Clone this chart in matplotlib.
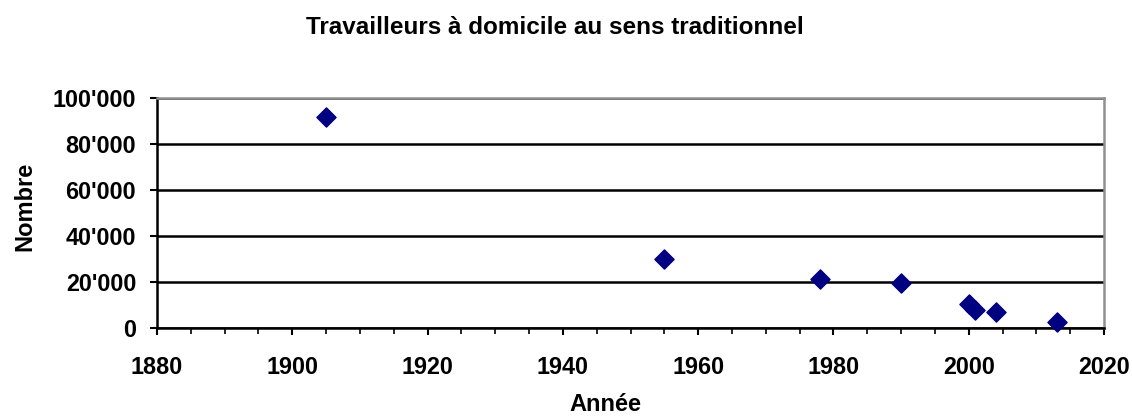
import matplotlib.pyplot as plt
from matplotlib.ticker import MultipleLocator, FuncFormatter

# Données: travailleurs à domicile
annees = [1905, 1955, 1978, 1990, 2000, 2001, 2004, 2013]
nombre = [91700, 29800, 21300, 19400, 10400, 8000, 6800, 2800]

plt.rcParams['font.family'] = ['Liberation Sans', 'DejaVu Sans']
plt.rcParams['font.weight'] = 'bold'

fig = plt.figure(figsize=(11.32, 4.16), dpi=100)
ax = fig.add_axes([157 / 1132, (416 - 328) / 416, 947 / 1132, 230 / 416])

ax.scatter(annees, nombre, marker='D', s=95, color='#000080', zorder=3, clip_on=False)

ax.set_xlim(1880, 2020)
ax.set_ylim(0, 100000)
ax.xaxis.set_major_locator(MultipleLocator(20))
ax.xaxis.set_minor_locator(MultipleLocator(5))
ax.yaxis.set_major_locator(MultipleLocator(20000))
ax.yaxis.set_major_formatter(FuncFormatter(lambda v, p: f"{int(v):,}".replace(',', "'")))

ax.grid(axis='y', color='black', linewidth=1.8)
ax.set_axisbelow(True)

for s in ['left', 'bottom']:
    ax.spines[s].set_color('black')
    ax.spines[s].set_linewidth(1.8)
for s in ['top', 'right']:
    ax.spines[s].set_color('#909090')
    ax.spines[s].set_linewidth(1.8)

ax.tick_params(axis='both', which='major', direction='out', length=5, width=1.5,
               labelsize=16.8)
ax.tick_params(axis='x', which='major', pad=15)
ax.tick_params(axis='y', which='major', pad=10)
ax.tick_params(axis='x', which='minor', direction='out', length=4, width=1.2)

ax.set_xlabel('Année', fontsize=17, fontweight='bold', labelpad=10, x=0.474)
ax.set_ylabel('Nombre', fontsize=17, fontweight='bold', labelpad=12, y=0.528)
fig.text(555 / 1132, 1 - 27 / 416, 'Travailleurs à domicile au sens traditionnel',
         ha='center', va='center', fontsize=17.5, fontweight='bold')

fig.savefig('out.png', dpi=100)
